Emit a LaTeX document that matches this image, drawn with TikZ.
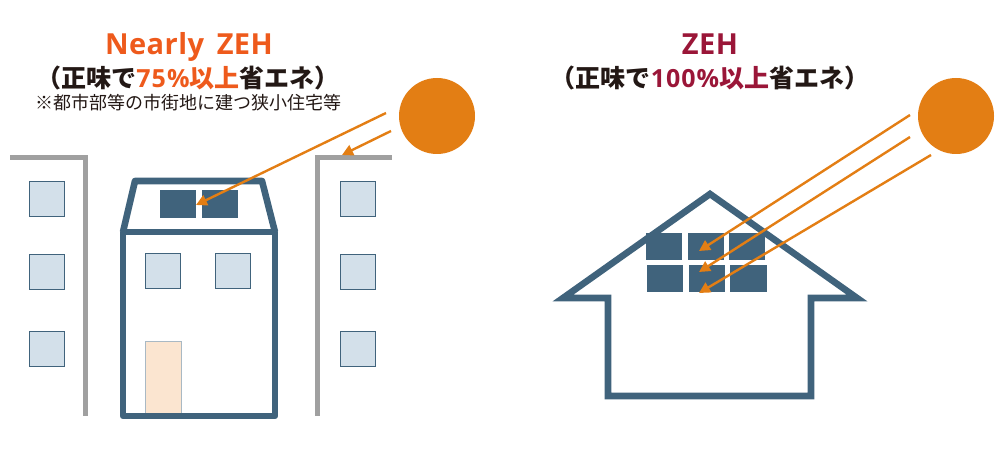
\documentclass[tikz,border=0pt]{standalone}
\usepackage{fontspec}
\setmainfont{Noto Sans CJK JP}
\newfontfamily\latinb[LetterSpace=1.5,WordSpace=1.6]{Open Sans}
\newfontfamily\latinp[LetterSpace=4]{Open Sans}
\usetikzlibrary{arrows.meta}
\definecolor{navy}{HTML}{40637C}
\definecolor{wallgray}{HTML}{A0A0A0}
\definecolor{glass}{HTML}{D3E0EA}
\definecolor{sunor}{HTML}{E37E14}
\definecolor{titleor}{HTML}{EE5A1C}
\definecolor{titlered}{HTML}{9A1638}
\definecolor{ink}{HTML}{231815}
\definecolor{doorc}{HTML}{FBE5D0}
\tikzset{
  x=1pt,y=-1pt,
  wall/.style={draw=wallgray,line width=5pt,line cap=butt,line join=miter},
  house/.style={draw=navy,line width=6.6pt,line join=round},
  win/.style={draw=navy,line width=0.8pt,fill=glass},
  panel/.style={fill=navy},
  door/.style={draw=navy!45,line width=0.4pt,fill=doorc},
  sun/.style={circle,fill=sunor,minimum size=76pt,inner sep=0pt},
  ray/.style={draw=sunor,line width=2.4pt,-{Triangle[length=11pt,width=11pt]}},
  bigt/.style={font=\latinb\bfseries\fontsize{29}{32}\selectfont,anchor=base,inner sep=0pt},
  subt/.style={font=\bfseries\fontsize{25}{28}\selectfont,text=ink,anchor=base,inner sep=0pt},
  smallt/.style={font=\fontsize{18}{21}\selectfont,text=ink,anchor=base,inner sep=0pt},
}
\newcommand{\pct}[2]{\textcolor{#1}{{\latinp\bfseries #2}}}
\begin{document}
\begin{tikzpicture}
\useasboundingbox (0,0) rectangle (1000,457);
% titles
\node[bigt,text=titleor] (t1) at (189,55) {Nearly ZEH};
\node[subt] (s1) at (188,88) {（正味で\pct{titleor}{75\%}\textcolor{titleor}{以上}省エネ）};
\node[smallt] (n1) at (188,110) {※都市部等の市街地に建つ狭小住宅等};
\node[bigt,text=titlered] (t2) at (710,55) {ZEH};
\node[subt] (s2) at (710,88) {（正味で\pct{titlered}{100\%}\textcolor{titlered}{以上}省エネ）};
% walls
\draw[wall] (10,158) -- (85,158) -- (85,416);
\draw[wall] (392,158) -- (317,158) -- (317,416);
% wall windows
\foreach \n/\x/\y in {a/28.5/180.5,b/28.5/253.5,c/28.5/331,d/340/180.5,e/340/253.5,f/340/331}
  \node[win,minimum width=35pt,minimum height=35pt,inner sep=0pt,anchor=north west] (w\n) at (\x,\y) {};
% left house
\node[door,minimum width=35.5pt,minimum height=74pt,inner sep=0pt,anchor=north west] (door) at (145,340.5) {};
\foreach \n/\x in {g/145,h/215}
  \node[win,minimum width=35pt,minimum height=35pt,inner sep=0pt,anchor=north west] (w\n) at (\x,252.5) {};
\draw[house] (123,232) rectangle (275,416);
\draw[house] (123,232) -- (135,181) -- (262,181) -- (275,232);
\node[panel,minimum width=36pt,minimum height=28pt,inner sep=0pt,anchor=north west] (p1) at (160,190) {};
\node[panel,minimum width=36pt,minimum height=28pt,inner sep=0pt,anchor=north west] (p2) at (202,190) {};
% right house
\draw[house,line join=miter] (710,194) -- (857,298) -- (811,298) -- (811,396) -- (608,396) -- (608,298) -- (563,298) -- cycle;
\foreach \n/\x/\y/\w in {q1/646/233/36,q2/687.5/233/36,q3/729/233/36,q4/647/265/36,q5/688.5/265/36.5,q6/730/265/36.5}
  \node[panel,minimum width=\w pt,minimum height=27pt,inner sep=0pt,anchor=north west] (\n) at (\x,\y) {};
% suns
\node[sun] (sun1) at (437,116) {};
\node[sun] (sun2) at (956,116) {};
% ray ends
\coordinate (r1a) at (386,113); \coordinate (r1b) at (196,205);
\coordinate (r2a) at (391,131); \coordinate (r2b) at (342,155);
\coordinate (r3a) at (910,115); \coordinate (r3b) at (699,251);
\coordinate (r4a) at (910,137); \coordinate (r4b) at (699,272);
\coordinate (r5a) at (931,155); \coordinate (r5b) at (699,293);
\foreach \a/\b in {r1a/r1b,r2a/r2b,r3a/r3b,r4a/r4b,r5a/r5b}
  \draw[ray] (\a) -- (\b);
\end{tikzpicture}
\end{document}
